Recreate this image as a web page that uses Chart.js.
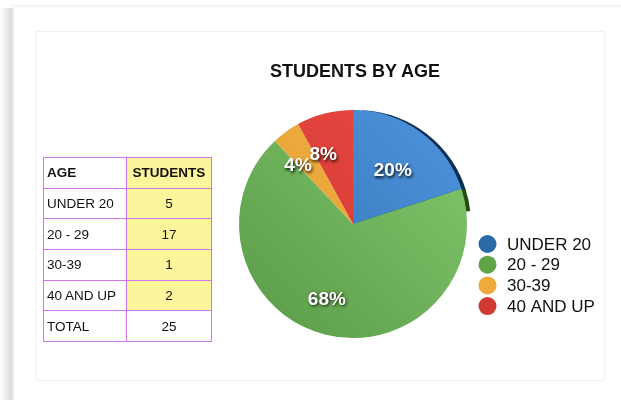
<!DOCTYPE html>
<html><head><meta charset="utf-8">
<script src="https://cdn.jsdelivr.net/npm/chart.js@4/dist/chart.umd.min.js"></script>
<style>
html,body{margin:0;padding:0;background:#fff;width:621px;height:400px;overflow:hidden;font-family:"Liberation Sans",Arial,sans-serif;}
#shadow{position:absolute;left:0;top:8px;width:14px;height:392px;background:linear-gradient(to right,#fff 0%,#f2f2f2 30%,#dcdcdc 75%,#eeeeee 100%);}
#topline{position:absolute;left:10px;top:4px;width:611px;height:4px;background:linear-gradient(to bottom,#fff,#f3f3f3,#fff);}
#card{position:absolute;left:36px;top:31px;width:567px;height:348px;border:1px solid #f1f1f1;box-shadow:0 0 2px #f3f3f3;}
#c{position:absolute;left:0;top:0;}
#title{position:absolute;left:254px;width:202px;top:61px;text-align:center;font-weight:bold;font-size:18px;color:#111;}
table{position:absolute;left:43px;top:157px;border-collapse:collapse;font-size:13.5px;color:#111;}
td{border:1px solid #d274ea;height:29.7px;padding:0 0 0 3px;}
td.a{width:79px;}
td.b{width:84px;text-align:center;padding:0;}
td.y{background:#fdf59c;}
tr.h td{font-weight:bold;}
</style></head><body>
<div id="shadow"></div><div id="topline"></div><div id="card"></div>
<canvas id="c" width="621" height="400"></canvas>
<div id="title">STUDENTS BY AGE</div>
<table id="tbl"></table>
<script>
const categories = ["UNDER 20", "20 - 29", "30-39", "40 AND UP"];
const students = [5, 17, 1, 2];
const percentLabels = ["20%", "68%", "4%", "8%"];
const tableHeader = ["AGE", "STUDENTS"];
const totalLabel = "TOTAL";
const totalValue = 25;
const sliceColors = [["#4f95dc", "#2f6fb3"], ["#82c96e", "#5a9a47"], ["#f4b547", "#e29a2c"], ["#ea4a43", "#cf3430"]];
const legendColors = ["#2d68a7", "#5fa547", "#eeaa3b", "#d13a33"];

// table
const tbl = document.getElementById('tbl');
let html = '<tr class="h"><td class="a">' + tableHeader[0] + '</td><td class="b y">' + tableHeader[1] + '</td></tr>';
categories.forEach((c, i) => { html += '<tr><td class="a">' + c + '</td><td class="b y">' + students[i] + '</td></tr>'; });
html += '<tr><td class="a">' + totalLabel + '</td><td class="b">' + totalValue + '</td></tr>';
tbl.innerHTML = html;

const labelPlugin = {
  id: 'pieLabels',
  afterDatasetsDraw(chart) {
    const ctx = chart.ctx;
    const meta = chart.getDatasetMeta(0);
    ctx.save();
    ctx.font = 'bold 19px "Liberation Sans", Arial, sans-serif';
    ctx.textAlign = 'center';
    ctx.textBaseline = 'middle';
    const fr = [0.58, 0.70, 0.70, 0.66];
    const off = [1, 4.7, -7.5, -9];
    meta.data.forEach((arc, i) => {
      const p = arc.getProps(['x', 'y', 'startAngle', 'endAngle', 'outerRadius']);
      const a = (p.startAngle + p.endAngle) / 2 + off[i] * Math.PI / 180;
      const r = p.outerRadius * fr[i];
      const x = p.x + Math.cos(a) * r, y = p.y + Math.sin(a) * r;
      ctx.shadowColor = 'rgba(0,0,0,0.85)';
      ctx.shadowBlur = 3; ctx.shadowOffsetX = 1; ctx.shadowOffsetY = 1.5;
      ctx.fillStyle = '#fff';
      ctx.fillText(percentLabels[i], x, y);
    });
    ctx.restore();
  }
};
const legendPlugin = {
  id: 'customLegend',
  afterDraw(chart) {
    const ctx = chart.ctx;
    const items = chart.data.labels;
    ctx.save();
    ctx.font = '17px "Liberation Sans", Arial, sans-serif';
    ctx.textBaseline = 'middle';
    items.forEach((t, i) => {
      const cy = 244 + i * 20.7;
      ctx.beginPath(); ctx.arc(487.5, cy, 9, 0, Math.PI * 2);
      ctx.fillStyle = legendColors[i]; ctx.fill();
      ctx.fillStyle = '#111';
      ctx.fillText(t, 507, cy + 1);
    });
    ctx.restore();
  }
};
const edgePlugin = {
  id: 'edge',
  beforeDatasetsDraw(chart) {
    const meta = chart.getDatasetMeta(0);
    const p = meta.data[0].getProps(['x', 'y', 'startAngle', 'endAngle', 'outerRadius']);
    const ctx = chart.ctx;
    ctx.save();
    ctx.beginPath();
    ctx.moveTo(p.x, p.y);
    ctx.arc(p.x + 4, p.y, p.outerRadius, p.startAngle + 0.05, p.endAngle + 0.02);
    ctx.closePath();
    ctx.fillStyle = '#0d2e54';
    ctx.fill();
    ctx.beginPath();
    ctx.moveTo(p.x, p.y);
    ctx.arc(p.x + 4, p.y, p.outerRadius, p.endAngle, p.endAngle + 0.2);
    ctx.closePath();
    ctx.fillStyle = '#244d12';
    ctx.fill();
    ctx.restore();
  }
};

new Chart(document.getElementById('c'), {
  type: 'pie',
  data: {
    labels: categories,
    datasets: [{
      data: students,
      backgroundColor: (c) => {
        const ch = c.chart;
        const i = c.dataIndex;
        const ca = ch.chartArea;
        if (!ca) return sliceColors[i][0];
        const g = ch.ctx.createLinearGradient(ca.right, ca.top, ca.left, ca.bottom);
        g.addColorStop(0, sliceColors[i][0]);
        g.addColorStop(1, sliceColors[i][1]);
        return g;
      },
      borderWidth: 0
    }]
  },
  options: {
    responsive: false,
    animation: false,
    events: [],
    layout: { padding: { left: 239, right: 154, top: 110, bottom: 62 } },
    plugins: { legend: { display: false }, tooltip: { enabled: false }, title: { display: false } }
  },
  plugins: [edgePlugin, labelPlugin, legendPlugin]
});
</script>
</body></html>
